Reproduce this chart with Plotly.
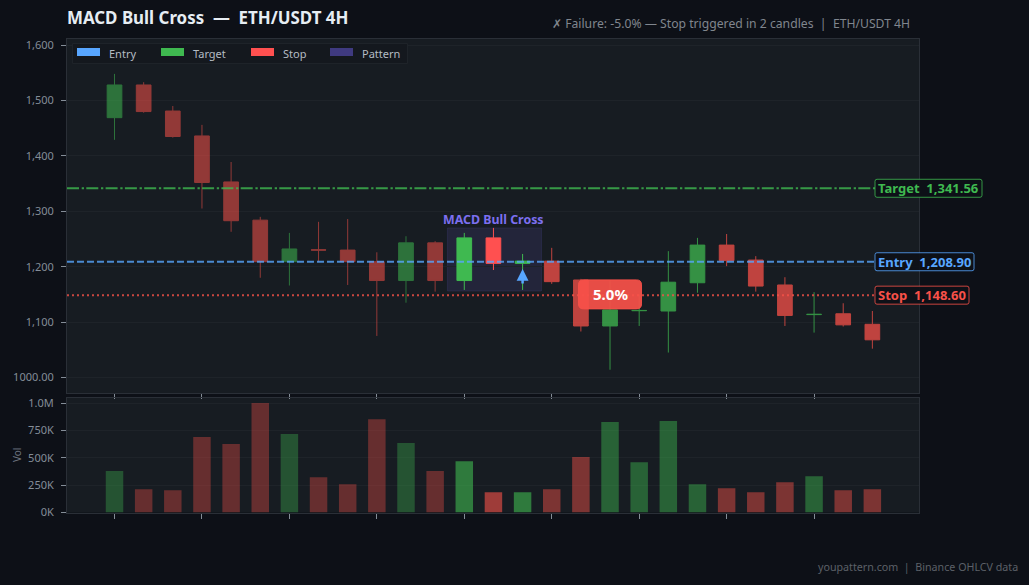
import plotly.graph_objects as go

# ---------- data ----------
opens  = [1469,1528,1481,1436,1353,1284,1209,1230.4,1230,1209,1175,1243,1175,1252,1206,1210,1176,1093,1120.5,1120,1171,1239,1212,1167,1113.5,1115,1096]
highs  = [1548,1533,1490,1456,1389,1290,1261,1281,1286,1226,1255,1246,1261,1270,1223,1234,1178,1175,1150,1228,1252,1259,1219,1181,1154,1134,1120]
lows   = [1429,1478,1433,1305,1263,1180,1166,1209,1167,1075,1135,1155,1158,1194,1158,1169,1083,1014,1093,1045,1153,1201,1155,1093,1081,1092,1052]
closes = [1528,1480,1435,1352,1283,1209,1232,1230,1209,1175,1243,1175,1252,1206,1210,1173,1093,1122,1121,1172,1239,1211,1165,1112,1114,1095,1068]
volumes = [378,213,204,689,625,1000,716,323,259,853,634,378,469,186,186,213,506,826,460,835,259,222,186,277,332,204,213]
volumes = [v*1000 for v in volumes]
groups = [(0,12,0.55,0.35),(12,15,1.0,0.6),(15,27,0.75,0.45)]

entry, target, stop = 1208.90, 1341.56, 1148.60
ytickvals = [1000,1100,1200,1300,1400,1500,1600]
yticktext = ["1000.00","1,100","1,200","1,300","1,400","1,500","1,600"]
vtickvals = [0,250000,500000,750000,1000000]
vticktext = ["0K","250K","500K","750K","1.0M"]
xticks = [0,3,6,9,12,15,18,21,24]
legend_names = ["Entry","Target","Stop","Pattern"]

# ---------- style ----------
W,H = 1029,585
BG="#0d1017"; PANEL="#171c22"; GRID="#1e2329"; AXIS="#2a2f37"; TICK="#848d97"
GREEN="#3fb950"; RED="#f85149"; BRIGHTRED="#ff5050"; BLUE="#58a6ff"; PURPLE="#7c6ff0"
FONT="Noto Sans"
L,R,T1,B1,T2,B2 = 67,919,39,393,398,512.5
XR=[-1.63,27.6]

def rgba(hexc,a):
    return f"rgba({int(hexc[1:3],16)},{int(hexc[3:5],16)},{int(hexc[5:7],16)},{a})"
def px(p):
    return p/W
def py(p):
    return 1-p/H
def x_of(pxv):
    return XR[0]+(pxv-L)/(R-L)*(XR[1]-XR[0])

fig=go.Figure()
xs=list(range(len(opens)))
for a,b,op,_ in groups:
    r = BRIGHTRED if op==1.0 else RED
    fig.add_trace(go.Candlestick(x=xs[a:b],open=opens[a:b],high=highs[a:b],low=lows[a:b],close=closes[a:b],
        increasing=dict(line=dict(color=GREEN,width=1),fillcolor=GREEN),
        decreasing=dict(line=dict(color=r,width=1),fillcolor=r),
        whiskerwidth=0,opacity=op,showlegend=False,xaxis="x",yaxis="y"))
colors=[]
for a,b,_,va in groups:
    for i in range(a,b):
        colors.append(rgba(GREEN if closes[i]>=opens[i] else RED,va))
fig.add_trace(go.Bar(x=xs,y=volumes,marker=dict(color=colors,line=dict(width=0)),width=0.6,showlegend=False,xaxis="x2",yaxis="y2"))

shapes=[
 dict(type="rect",layer="below",xref="x",yref="y",x0=11.42,x1=14.65,y0=1156,y1=1270,fillcolor="rgba(124,111,240,0.12)",line=dict(color="rgba(124,111,240,0.12)",width=1)),
 dict(type="line",xref="paper",yref="y",x0=px(L),x1=px(875),y0=target,y1=target,line=dict(color=rgba(GREEN,0.8),width=2,dash="12px,2.7px,2.3px,2.3px")),
 dict(type="line",xref="paper",yref="y",x0=px(L),x1=px(875),y0=entry,y1=entry,line=dict(color=rgba(BLUE,0.8),width=2,dash="7px,3px")),
 dict(type="line",xref="paper",yref="y",x0=px(L),x1=px(875),y0=stop,y1=stop,line=dict(color=rgba(RED,0.8),width=2,dash="2px,3px")),
]
def rounded(xref,xc,yv,w,h,r,fill,line,lw=1):
    # pixel-sized rounded rectangle centred on an anchor
    a,b=w/2,h/2
    path=(f"M{-a+r},{-b} L{a-r},{-b} Q{a},{-b} {a},{-b+r} L{a},{b-r} Q{a},{b} {a-r},{b} "
          f"L{-a+r},{b} Q{-a},{b} {-a},{b-r} L{-a},{-b+r} Q{-a},{-b} {-a+r},{-b} Z")
    return dict(type="path",xsizemode="pixel",ysizemode="pixel",xref=xref,yref="y",xanchor=xc,yanchor=yv,path=path,
                fillcolor=fill,line=dict(color=line,width=lw))

ann=[]
for name,val,c,wid in [("Target",target,GREEN,107),("Entry",entry,BLUE,99),("Stop",stop,RED,94)]:
    x0=875
    shapes.append(rounded("paper",px(x0+wid/2),val,wid,18,2,"rgba(13,17,23,0.9)",rgba(c,0.8)))
    ann.append(dict(xref="paper",yref="y",x=px(x0+1),y=val,xanchor="left",yanchor="middle",showarrow=False,
        text=f"<b>{name}  {val:,.2f}</b>",font=dict(family=FONT,size=13,color=c)))
shapes.append(rounded("x",17.0,1150,63,29,5,rgba(RED,0.93),rgba(RED,0.93)))

# legend panel, drawn to the reference's compact size
shapes.append(dict(type="rect",xref="paper",yref="paper",x0=px(72.5),x1=px(407.5),y0=py(63.5),y1=py(43.5),fillcolor="#14181e",line=dict(color="#1e2329",width=1)))
for n,c,sx,tx in zip(legend_names,[BLUE,GREEN,BRIGHTRED,"#3f3a80"],[77,161,251,330],[109,193,283,362]):
    shapes.append(dict(type="rect",xref="paper",yref="paper",x0=px(sx),x1=px(sx+23),y0=py(56),y1=py(48),fillcolor=c,line=dict(width=0)))
    ann.append(dict(xref="paper",yref="paper",x=px(tx-2),y=py(53),xanchor="left",yanchor="middle",showarrow=False,text=n,font=dict(family=FONT,size=11,color="#b4bcc4")))

ann+= [
 dict(xref="x",yref="y",x=17.0,y=1150,showarrow=False,text="<b>5.0%</b>",font=dict(family=FONT,size=15,color="#ffffff")),
 dict(xref="x",yref="y",x=13.0,y=1285,showarrow=False,text="<b>MACD Bull Cross</b>",font=dict(family=FONT,size=12.4,color=PURPLE)),
 dict(xref="x",yref="y",x=14,y=1196,ax=0,ay=16,showarrow=True,arrowhead=2,arrowsize=0.95,arrowwidth=2.5,arrowcolor=BLUE,standoff=0,text=""),
 dict(xref="paper",yref="paper",x=px(65),y=py(17),xanchor="left",yanchor="middle",showarrow=False,text="<b>MACD Bull Cross  —  ETH/USDT 4H</b>",font=dict(family=FONT,size=16.9,color="#e6edf3")),
 dict(xref="paper",yref="paper",x=px(912),y=py(24),xanchor="right",yanchor="middle",showarrow=False,text="✗ Failure: -5.0% — Stop triggered in 2 candles  |  ETH/USDT 4H",font=dict(family=FONT,size=12.2,color="#80868e")),
 dict(xref="paper",yref="paper",x=px(1020),y=py(567),xanchor="right",yanchor="middle",showarrow=False,text="youpattern.com  |  Binance OHLCV data",font=dict(family=FONT,size=10.7,color="#5c6068")),
 dict(xref="paper",yref="paper",x=px(17),y=py(455),xanchor="center",yanchor="middle",showarrow=False,textangle=-90,text="Vol",font=dict(family=FONT,size=10,color="#6e7681")),
]

common=dict(showline=True,linecolor=AXIS,linewidth=1,mirror=True,zeroline=False,tickfont=dict(family=FONT,size=11,color=TICK),ticks="outside",ticklen=5,tickcolor=TICK,tickwidth=1)
fig.update_layout(
    width=W,height=H,margin=dict(l=0,r=0,t=0,b=0,autoexpand=False),paper_bgcolor=BG,plot_bgcolor=PANEL,
    font=dict(family=FONT,color=TICK),
    boxgap=0.28,boxmode="overlay",bargap=0.4,
    xaxis=dict(domain=[L/W,R/W],range=XR,anchor="y",tickvals=xticks,ticktext=[""]*len(xticks),showgrid=False,rangeslider=dict(visible=False),**common),
    yaxis=dict(domain=[1-B1/H,1-T1/H],range=[972,1611],tickvals=ytickvals,ticktext=yticktext,showgrid=True,gridcolor=GRID,gridwidth=1,anchor="x",ticklabelstandoff=5,**common),
    xaxis2=dict(domain=[L/W,R/W],range=XR,anchor="y2",tickvals=xticks,ticktext=[""]*len(xticks),showgrid=False,**common),
    yaxis2=dict(domain=[1-B2/H,1-T2/H],range=[0,1046000],tickvals=vtickvals,ticktext=vticktext,showgrid=True,gridcolor=GRID,gridwidth=1,anchor="x2",ticklabelstandoff=5,**common),
    shapes=shapes,annotations=ann,hovermode=False,showlegend=False,
)
fig.write_html("out.html",config=dict(displayModeBar=False),post_script="document.body.style.margin='0';document.documentElement.style.overflow='hidden';")
